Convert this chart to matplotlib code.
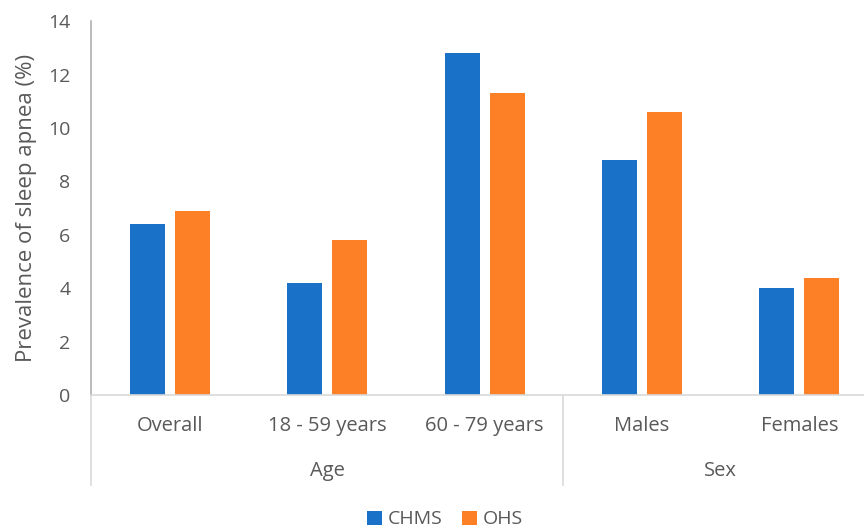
import numpy as np
import matplotlib.pyplot as plt
from matplotlib.transforms import blended_transform_factory

categories = ['Overall', '18 - 59 years', '60 - 79 years', 'Males', 'Females']
groups = ['Age', 'Sex']
group_sizes = [3, 2]
chms = [6.4, 4.2, 12.8, 8.8, 4.0]
ohs = [6.9, 5.8, 11.3, 10.6, 4.4]

plt.rcParams['font.family'] = ['Open Sans', 'DejaVu Sans']
txt = '#595959'

fig = plt.figure(figsize=(8.64, 5.29), dpi=100)
ax = fig.add_axes([0.1058, 0.2533, 0.9104, 0.7067])

x = np.arange(len(categories))
w = 0.222
gap = 0.064
ax.bar(x - (w + gap) / 2, chms, w, color='#1a72c8', label='CHMS')
ax.bar(x + (w + gap) / 2, ohs, w, color='#fd7f26', label='OHS')

ax.set_xlim(-0.5, len(categories) - 0.5)
ax.set_ylim(0, 14)
ax.set_yticks(range(0, 15, 2))
ax.tick_params(axis='y', length=0, labelsize=14, colors=txt, pad=15)
ax.set_xticks([])
ax.set_ylabel('Prevalence of sleep apnea (%)', fontsize=16, color=txt, labelpad=8)

for s in ['top', 'right']:
    ax.spines[s].set_visible(False)
ax.spines['left'].set_color('#b0b0b0')
ax.spines['bottom'].set_color('#d9d9d9')
ax.spines['left'].set_linewidth(1.2)
ax.spines['bottom'].set_linewidth(1.2)

tr = blended_transform_factory(ax.transData, ax.transAxes)
for xi, lab in zip(x, categories):
    ax.text(xi, -0.082, lab, transform=tr, ha='center', va='center',
            fontsize=14.5, color=txt)

start = -0.5
bounds = [start]
for g, n in zip(groups, group_sizes):
    end = start + n
    ax.text((start + end) / 2, -0.202, g, transform=tr, ha='center', va='center',
            fontsize=14.5, color=txt)
    bounds.append(end)
    start = end
for b in bounds:
    ax.plot([b, b], [0, -0.242], transform=tr, color='#d9d9d9', lw=1.2,
            clip_on=False)

leg = fig.legend(loc='center', bbox_to_anchor=(0.515, 0.018), ncol=2, frameon=False,
                 fontsize=14, handlelength=0.75, handleheight=0.75,
                 handletextpad=0.3, columnspacing=1.0)
for t in leg.get_texts():
    t.set_color(txt)

fig.savefig('out.png', dpi=100)
